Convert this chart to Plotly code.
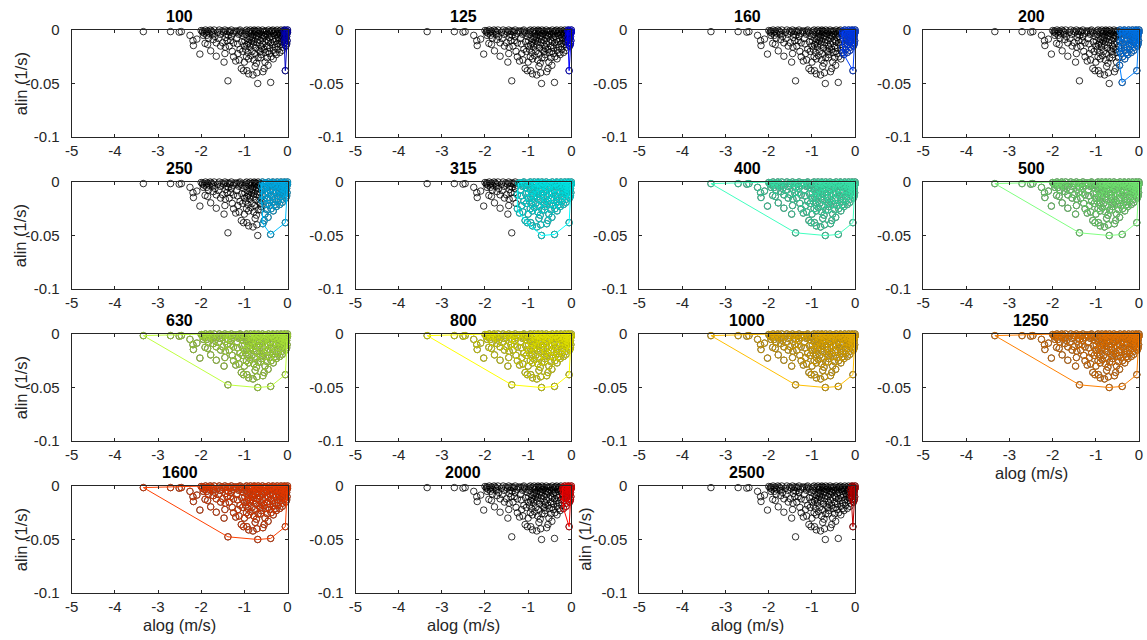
import plotly.graph_objects as go

# ---------------- data ----------------
band_labels = ["100", "125", "160", "200", "250", "315", "400", "500",
               "630", "800", "1000", "1250", "1600", "2000", "2500"]
# lower alog limit of the points that belong to each band (None = all points)
band_alog_min = [-0.08, -0.08, -0.3, -0.45, -0.6, -1.25, None, None,
                 None, None, None, None, None, -0.2, -0.1]
band_colors = [(0, 0, .75), (0, 0, 1), (0, .25, 1), (0, .5, 1), (0, .75, 1),
               (0, 1, 1), (.25, 1, .75), (.5, 1, .5), (.75, 1, .25), (1, 1, 0),
               (1, .75, 0), (1, .5, 0), (1, .25, 0), (1, 0, 0), (.75, 0, 0)]

alog = [
    -3.34, -2.71, -2.51, -2.46, -2.26, -2.19, -2.10, -2.18, -2.03, -2.00,
    -1.96, -1.93, -1.90, -1.88, -1.85, -1.82, -1.79, -1.76, -1.73, -1.95,
    -1.91, -1.85, -1.78, -1.65, -1.68, -1.83, -1.60, -1.62, -1.56, -1.52,
    -1.48, -1.45, -1.42, -1.40, -1.38, -1.47, -1.35, -1.33, -1.30, -1.28,
    -1.25, -1.22, -1.20, -1.18, -1.15, -1.13, -1.10, -1.08, -1.06, -1.04,
    -1.02, -1.00, -1.43, -1.37, -1.26, -1.16, -1.12, -1.35, -1.50, -1.44,
    -1.07, -1.02, -0.94, -0.90, -0.80, -0.71, -0.69, -0.57, -0.75, -0.72,
    -0.78, -0.90, -0.95, -0.85, -0.98, -0.96, -0.93, -0.91, -0.88, -0.87,
    -0.85, -0.83, -0.82, -0.80, -0.79, -0.77, -0.76, -0.74, -0.73, -0.71,
    -0.70, -0.68, -0.67, -0.66, -0.64, -0.63, -0.62, -0.61, -0.60, -0.58,
    -0.57, -0.55, -0.54, -0.53, -0.52, -0.51, -0.97, -0.92, -0.89, -0.86,
    -0.84, -0.81, -0.78, -0.75, -0.72, -0.69, -0.66, -0.63, -0.60, -0.56,
    -0.99, -0.94, -1.55, -1.45, -1.25, -1.12, -1.65, -1.72, -1.32, -1.00,
    -0.39, -0.26, -0.05, -0.49, -0.48, -0.47, -0.46, -0.45, -0.44, -0.43,
    -0.42, -0.41, -0.40, -0.39, -0.38, -0.37, -0.36, -0.35, -0.34, -0.33,
    -0.32, -0.31, -0.30, -0.29, -0.28, -0.27, -0.25, -0.24, -0.23, -0.22,
    -0.21, -0.20, -0.19, -0.18, -0.17, -0.16, -0.15, -0.14, -0.13, -0.12,
    -0.11, -0.10, -0.09, -0.08, -0.07, -0.06, -0.05, -0.04, -0.03, -0.02,
    -0.01, 0.00, 0.00, -0.01, -0.02, -0.03, -0.04, -0.06, -0.08, -0.13,
    -0.47, -0.42, -0.33, -0.28, -0.18, -0.52, -0.62, -0.54, -0.12, -0.45,
    -0.95, -0.90, -0.86, -0.82, -0.77, -0.73, -0.68, -0.62, -0.58, -0.53,
    -0.50, -0.44, -0.38, -0.34, -0.29, -0.24, -0.20, -0.15, -0.11, -0.07,
    -1.70, -1.58, -1.40, -1.30, -1.18, -1.10, -1.05, -1.97, -1.87, -1.74,
]
alin = [
    -0.0015, -0.0015, -0.0020, -0.0015, -0.0050, -0.0100, -0.0085, -0.0145, -0.0225, -0.0005,
    -0.0010, -0.0030, 0.0000, -0.0020, -0.0010, -0.0030, 0.0000, -0.0010, -0.0020, -0.0050,
    -0.0125, -0.0135, -0.0195, -0.0245, -0.0060, -0.0075, -0.0080, -0.0020, -0.0040, -0.0010,
    -0.0020, 0.0000, -0.0040, -0.0100, -0.0475, -0.0300, -0.0150, -0.0020, -0.0060, -0.0200,
    -0.0120, -0.0010, -0.0290, -0.0080, -0.0220, -0.0040, -0.0180, -0.0020, -0.0110, -0.0200,
    -0.0060, -0.0150, -0.0070, -0.0050, -0.0030, -0.0130, -0.0010, -0.0010, -0.0120, -0.0160,
    -0.0360, -0.0380, -0.0380, -0.0410, -0.0420, -0.0400, -0.0500, -0.0390, -0.0340, -0.0310,
    -0.0280, -0.0270, -0.0250, -0.0240, -0.0010, -0.0040, -0.0080, -0.0120, -0.0020, -0.0160,
    -0.0060, -0.0100, -0.0200, -0.0010, -0.0140, -0.0040, -0.0220, -0.0080, -0.0170, -0.0020,
    -0.0120, -0.0260, -0.0060, -0.0190, -0.0010, -0.0100, -0.0150, -0.0230, -0.0040, -0.0080,
    -0.0130, -0.0020, -0.0180, -0.0060, -0.0110, -0.0210, -0.0180, -0.0210, -0.0090, -0.0130,
    -0.0030, -0.0070, -0.0110, -0.0010, -0.0050, -0.0090, -0.0030, -0.0200, -0.0170, -0.0050,
    -0.0100, -0.0140, -0.0150, -0.0220, -0.0250, -0.0280, -0.0120, -0.0090, -0.0100, -0.0300,
    -0.0490, -0.0230, -0.0380, -0.0010, -0.0090, -0.0150, -0.0040, -0.0200, -0.0110, -0.0020,
    -0.0070, -0.0170, -0.0030, -0.0120, -0.0250, -0.0060, -0.0010, -0.0140, -0.0090, -0.0190,
    -0.0030, -0.0110, -0.0050, -0.0160, -0.0010, -0.0080, -0.0040, -0.0130, -0.0020, -0.0180,
    -0.0070, -0.0100, -0.0010, -0.0050, -0.0140, -0.0030, -0.0080, -0.0110, -0.0020, -0.0060,
    -0.0160, -0.0040, -0.0090, -0.0010, -0.0120, -0.0050, -0.0030, -0.0080, -0.0010, -0.0060,
    -0.0030, 0.0000, -0.0020, -0.0100, -0.0130, -0.0040, -0.0150, -0.0100, -0.0070, -0.0120,
    -0.0260, -0.0220, -0.0270, -0.0210, -0.0210, -0.0300, -0.0260, -0.0360, -0.0190, -0.0330,
    0.0000, -0.0010, 0.0000, -0.0020, 0.0000, -0.0010, 0.0000, -0.0020, 0.0000, -0.0010,
    -0.0040, 0.0000, -0.0010, 0.0000, -0.0020, 0.0000, -0.0030, 0.0000, -0.0010, 0.0000,
    0.0000, 0.0000, -0.0010, 0.0000, -0.0010, 0.0000, -0.0030, -0.0020, -0.0050, -0.0040,
]

x_ticks = [-5, -4, -3, -2, -1, 0]
x_tick_text = ["-5", "-4", "-3", "-2", "-1", "0"]
y_ticks = [-0.1, -0.05, 0]
y_tick_text = ["-0.1", "-0.05", "0"]
x_title = "alog (m/s)"
y_title = "alin (1/s)"


# ---------------- helpers ----------------
def convex_hull(points):
    pts = sorted(set(points))
    if len(pts) < 3:
        return pts

    def cross(o, a, b):
        return (a[0] - o[0]) * (b[1] - o[1]) - (a[1] - o[1]) * (b[0] - o[0])

    lower, upper = [], []
    for p in pts:
        while len(lower) >= 2 and cross(lower[-2], lower[-1], p) <= 0:
            lower.pop()
        lower.append(p)
    for p in reversed(pts):
        while len(upper) >= 2 and cross(upper[-2], upper[-1], p) <= 0:
            upper.pop()
        upper.append(p)
    return lower[:-1] + upper[:-1]


def rgb(c, f=1.0):
    return "rgb(%d,%d,%d)" % tuple(round(255 * v * f) for v in c)


W, H = 1147, 640
col_left = [71.7, 355.5, 639.3, 923.2]
panel_w = 215.8
row_top = [30.0, 182.0, 334.0, 486.0]
panel_h = 107.0
FONT = "Liberation Sans, Arial, Helvetica, sans-serif"
AXC = "#262626"

fig = go.Figure()
annotations = []
layout = {}

for i, lab in enumerate(band_labels):
    r, c = divmod(i, 4)
    n = i + 1
    x0 = col_left[c] / W
    x1 = (col_left[c] + panel_w) / W
    y1 = 1 - row_top[r] / H
    y0 = 1 - (row_top[r] + panel_h) / H
    xa = "x" if n == 1 else "x%d" % n
    ya = "y" if n == 1 else "y%d" % n

    common = dict(showgrid=False, zeroline=False, showline=True, linecolor=AXC,
                  linewidth=1, mirror="ticks", ticks="inside", ticklen=3,
                  tickwidth=1, tickcolor=AXC, automargin=False,
                  tickfont=dict(family=FONT, size=15, color=AXC))
    layout["xaxis" if n == 1 else "xaxis%d" % n] = dict(
        domain=[x0, x1], anchor=ya, range=[-5, 0], tickvals=x_ticks,
        ticktext=x_tick_text, ticklabelstandoff=0, **common)
    layout["yaxis" if n == 1 else "yaxis%d" % n] = dict(
        domain=[y0, y1], anchor=xa, range=[-0.1, 0], tickvals=y_ticks,
        ticktext=y_tick_text, ticklabelstandoff=8, **common)

    # all points, black
    fig.add_trace(go.Scatter(
        x=alog, y=alin, mode="markers", xaxis=xa, yaxis=ya, cliponaxis=False,
        marker=dict(symbol="circle-open", size=6.5, color="black",
                    line=dict(width=0.8, color="black")),
        showlegend=False, hoverinfo="skip"))

    # points of this band
    lo = band_alog_min[i]
    sel = [(x, y) for x, y in zip(alog, alin) if lo is None or x >= lo]
    col = band_colors[i]
    fig.add_trace(go.Scatter(
        x=[p[0] for p in sel], y=[p[1] for p in sel], mode="markers",
        xaxis=xa, yaxis=ya, cliponaxis=False,
        marker=dict(symbol="circle-open", size=6.5, color=rgb(col, 0.87),
                    line=dict(width=0.8, color=rgb(col, 0.87))),
        showlegend=False, hoverinfo="skip"))

    hull = convex_hull(sel)
    hull = hull + hull[:1]
    fig.add_trace(go.Scatter(
        x=[p[0] for p in hull], y=[p[1] for p in hull], mode="lines",
        xaxis=xa, yaxis=ya, cliponaxis=False,
        line=dict(color=rgb(col), width=1), showlegend=False, hoverinfo="skip"))

    # title
    annotations.append(dict(
        text="<b>%s</b>" % lab, x=(x0 + x1) / 2, y=y1, xref="paper", yref="paper",
        xanchor="center", yanchor="bottom", yshift=3, showarrow=False,
        font=dict(family=FONT, size=16, color="black")))

    # y label
    if c == 0 or n == 15:
        annotations.append(dict(
            text=y_title, x=(col_left[c] - (51 if c == 0 else 55)) / W,
            y=(y0 + y1) / 2,
            xref="paper", yref="paper", xanchor="center", yanchor="middle",
            textangle=-90, showarrow=False,
            font=dict(family=FONT, size=16.5, color=AXC)))
    # x label
    if r == 3 or n == 12:
        annotations.append(dict(
            text=x_title, x=(x0 + x1) / 2, y=1 - (row_top[r] + panel_h + 32) / H,
            xref="paper", yref="paper", xanchor="center", yanchor="middle",
            showarrow=False, font=dict(family=FONT, size=16.5, color=AXC)))

fig.update_layout(
    width=W, height=H, autosize=False, margin=dict(l=0, r=0, t=0, b=0, pad=0),
    paper_bgcolor="white", plot_bgcolor="white",
    annotations=annotations, **layout)

fix_page = (
    "document.documentElement.style.margin='0';"
    "document.documentElement.style.overflow='hidden';"
    "document.body.style.margin='0';"
    "document.body.style.padding='0';"
    "document.body.style.overflow='hidden';"
    "var gd=document.getElementsByClassName('plotly-graph-div')[0];"
    "gd.style.width='1147px';gd.style.height='640px';"
    "if(gd.parentNode){gd.parentNode.style.margin='0';}"
    "Plotly.relayout(gd,'autosize',false);"
    "Plotly.relayout(gd,'width',1147);"
    "Plotly.relayout(gd,'height',640);"
)
fig.write_html("out.html", config={"responsive": False}, post_script=fix_page)
